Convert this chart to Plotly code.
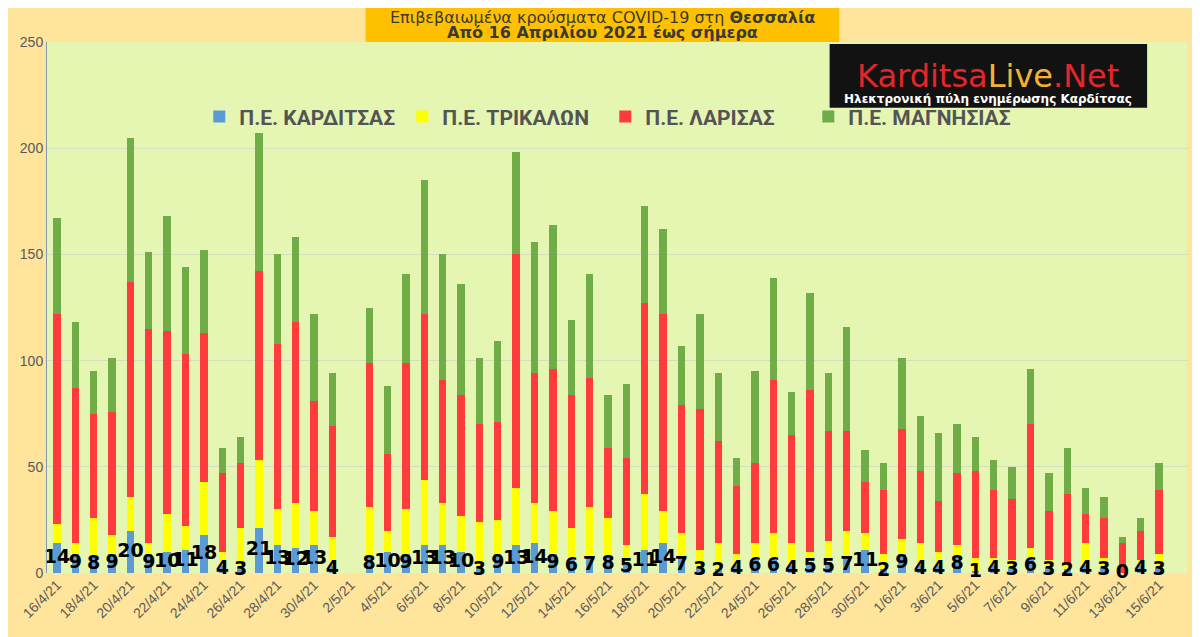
import pandas as pd
import plotly.graph_objects as go

# daily cases per regional unit, 16/4/21 - 15/6/21 (no data on 2/5/21)
dates = pd.date_range("2021-04-16", "2021-06-15", freq="D")

karditsa = [14, 9, 8, 9, 20, 9, 10, 11, 18, 4, 3, 21, 13, 12, 13, 4, None,
            8, 10, 9, 13, 13, 10, 3, 9, 13, 14, 9, 6, 7, 8, 5, 11, 14, 7,
            3, 2, 4, 6, 6, 4, 5, 5, 7, 11, 2,
            9, 4, 4, 8, 1, 4, 3, 6, 3, 2, 4, 3, 0, 4, 3]
trikala = [9, 5, 18, 9, 16, 5, 18, 11, 25, 6, 18, 32, 17, 21, 16, 13, None,
           23, 10, 21, 31, 20, 17, 21, 16, 27, 19, 20, 15, 24, 18, 8, 26, 15, 12,
           8, 12, 5, 8, 13, 10, 5, 10, 13, 8, 7,
           7, 10, 6, 5, 6, 3, 3, 6, 3, 2, 10, 4, 0, 2, 6]
larisa = [99, 73, 49, 58, 101, 101, 86, 81, 70, 37, 31, 89, 78, 85, 52, 52, None,
          68, 36, 69, 78, 58, 57, 46, 46, 110, 61, 67, 63, 61, 33, 41, 90, 93, 60,
          66, 48, 32, 38, 72, 51, 76, 52, 47, 24, 30,
          52, 34, 24, 34, 41, 32, 29, 58, 23, 33, 14, 19, 14, 14, 30]
magnisia = [45, 31, 20, 25, 68, 36, 54, 41, 39, 12, 12, 65, 42, 40, 41, 25, None,
            26, 32, 42, 63, 59, 52, 31, 38, 48, 62, 68, 35, 49, 25, 35, 46, 40, 28,
            45, 32, 13, 43, 48, 20, 46, 27, 49, 15, 13,
            33, 26, 32, 23, 16, 14, 15, 26, 18, 22, 12, 10, 3, 6, 13]

names = ["Π.Ε. ΚΑΡΔΙΤΣΑΣ", "Π.Ε. ΤΡΙΚΑΛΩΝ", "Π.Ε. ΛΑΡΙΣΑΣ", "Π.Ε. ΜΑΓΝΗΣΙΑΣ"]
colors = ["#5B9BD5", "#FFFF00", "#FF3B3B", "#70AD47"]

fig = go.Figure()
for name, vals, col in zip(names, [karditsa, trikala, larisa, magnisia], colors):
    fig.add_trace(go.Bar(x=dates, y=vals, name=name, marker_color=col,
                         marker_line_width=0))

# Karditsa value labels, centred in the blue segment
lab = pd.DataFrame({"x": dates, "k": karditsa}).dropna()
fig.add_trace(go.Scatter(x=lab.x, y=lab.k / 2, mode="text",
                         text=lab.k.astype(int).astype(str), showlegend=False,
                         textfont=dict(family="DejaVu Sans", size=19, color="black",
                                       weight="bold"),
                         hoverinfo="skip", cliponaxis=False))

# margins allow for the 8px page margin of the browser
fig.update_layout(
    width=1200, height=637, barmode="stack", bargap=0.6,
    paper_bgcolor="#FFE49C", plot_bgcolor="#E4F6B2",
    margin=dict(l=34, r=21, t=34, b=72),
    font=dict(family="Liberation Sans, Arial", color="#595959"),
    legend=dict(orientation="h", x=0.1336, y=0.859, xanchor="left", yanchor="middle",
                traceorder="normal", bgcolor="rgba(0,0,0,0)",
                entrywidth=158, entrywidthmode="pixels",
                font=dict(family="Liberation Sans Narrow, Roboto", size=21,
                          color="#545454", weight="bold")),
    showlegend=True,
)
fig.update_yaxes(range=[0, 250], dtick=50, gridcolor="#D6DEC0", gridwidth=1,
                 showline=True, linecolor="#8497B0", linewidth=1, zeroline=False,
                 ticks="", tickfont=dict(size=14, color="#595959"))
fig.update_xaxes(type="date", range=["2021-04-15 11:00", "2021-06-16 12:30"],
                 tick0="2021-04-16", dtick=2 * 86400000, tickformat="%-d/%-m/%y",
                 tickangle=-45, showgrid=False, ticks="",
                 tickfont=dict(size=14, color="#595959"))

# title box
fig.add_shape(type="rect", xref="paper", yref="paper", x0=0.2795, x1=0.695,
              y0=1.0, y1=1.1, fillcolor="#FFC000", line_width=0, layer="below")
fig.add_annotation(xref="paper", yref="paper", x=0.487, y=1.046, showarrow=False,
                   xanchor="center", yanchor="middle",
                   text="Επιβεβαιωμένα κρούσματα COVID-19 στη <b>Θεσσαλία</b>",
                   font=dict(family="DejaVu Sans", size=16, color="#3A3A3A"))
fig.add_annotation(xref="paper", yref="paper", x=0.487, y=1.017, showarrow=False,
                   xanchor="center", yanchor="middle",
                   text="<b>Από 16 Απριλίου 2021 έως σήμερα</b>",
                   font=dict(family="DejaVu Sans", size=16, color="#3A3A3A"))

# logo box
fig.add_shape(type="rect", xref="paper", yref="paper", x0=0.6865, x1=0.965,
              y0=0.876, y1=0.996, fillcolor="#121212", line_width=0)
fig.add_annotation(xref="paper", yref="paper", x=0.8257, y=0.936, showarrow=False,
                   xanchor="center", yanchor="middle",
                   text='<span style="color:#E3262A">Karditsa</span>'
                        '<span style="color:#F2B233">Live</span>'
                        '<span style="color:#E3262A">.Net</span>',
                   font=dict(family="DejaVu Sans", size=32))
fig.add_annotation(xref="paper", yref="paper", x=0.8257, y=0.893, showarrow=False,
                   xanchor="center", yanchor="middle",
                   text="Ηλεκτρονική πύλη ενημέρωσης Καρδίτσας",
                   font=dict(family="DejaVu Sans", size=12, color="white",
                             weight="bold"))

fig.write_html("out.html")
